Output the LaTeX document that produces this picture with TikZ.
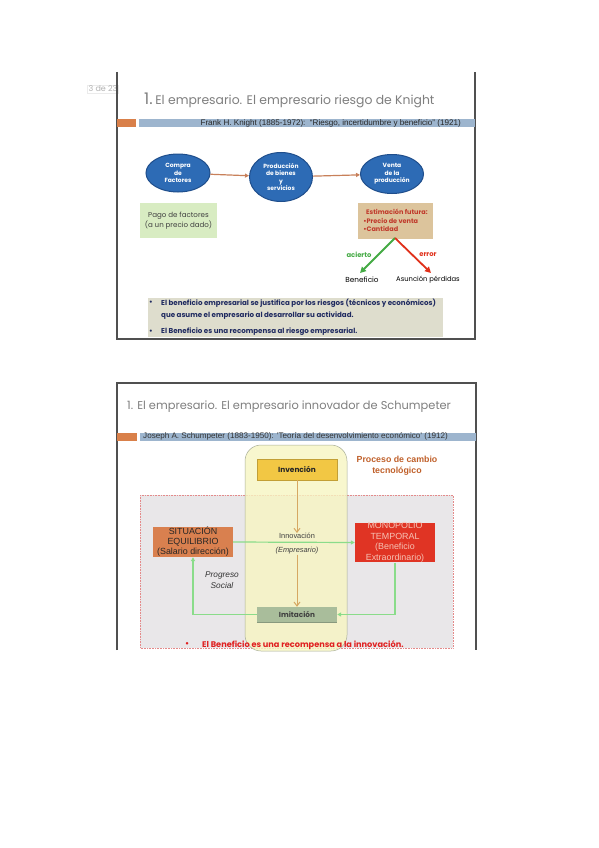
\documentclass[tikz,border=0pt]{standalone}
\usepackage{fontspec}
\setmainfont{Poppins}
\newfontfamily\arialf{Liberation Sans}
\usetikzlibrary{arrows.meta,shapes.geometric}
\definecolor{titlegray}{HTML}{7F7F7F}
\definecolor{bannerblue}{HTML}{9DB5CE}
\definecolor{bannerorange}{HTML}{D9804A}
\definecolor{ellf}{HTML}{2D6BB5}
\definecolor{ellb}{HTML}{1F4E8C}
\definecolor{arrowbrown}{HTML}{C8805A}
\definecolor{greenbox}{HTML}{D8ECC2}
\definecolor{tanbox}{HTML}{DCC49C}
\definecolor{tantext}{HTML}{C0392B}
\definecolor{okgreen}{HTML}{44AA44}
\definecolor{errred}{HTML}{E0301A}
\definecolor{notebox}{HTML}{DEDDCD}
\definecolor{navy}{HTML}{1F2A60}
\definecolor{frame}{HTML}{505050}
\definecolor{yellowbg}{HTML}{F7F5C2}
\definecolor{yellowline}{HTML}{A8AE98}
\definecolor{greyregion}{HTML}{E9E7E9}
\definecolor{dotred}{HTML}{E48A8A}
\definecolor{gold}{HTML}{F2C744}
\definecolor{procesotext}{HTML}{C0602A}
\definecolor{orangebox}{HTML}{D9804F}
\definecolor{redbox}{HTML}{E03424}
\definecolor{redboxtext}{HTML}{F6C2B4}
\definecolor{imitbox}{HTML}{A9BD9B}
\definecolor{imitshadow}{HTML}{88997E}
\definecolor{lightgreen}{HTML}{8ADC8A}
\definecolor{tanarrow}{HTML}{D6A862}
\definecolor{bulletred}{HTML}{E02020}
\begin{document}
\begin{tikzpicture}[x=1pt,y=-1pt,
  ell/.style={ellipse, draw=ellb, line width=1pt, fill=ellf, text=white,
    font=\fontsize{6}{7.4}\selectfont\bfseries, align=center, inner sep=0pt},
  flowarrow/.style={draw=arrowbrown, line width=1.2pt, -{Triangle[length=4pt,width=4pt]}},
  plainbox/.style={inner sep=0pt, align=center},
  framel/.style={draw=frame, line width=1.1pt},
  greenarr/.style={draw=lightgreen, line width=1.2pt, -{Triangle[length=4pt,width=4pt]}},
  tanarr/.style={draw=tanarrow, line width=1pt, -{Straight Barb[length=4pt,width=6pt]}},
  txt/.style={inner sep=0pt, anchor=west},
  notefont/.style={font=\fontsize{7.1}{8}\selectfont\bfseries, text=navy}
]
\useasboundingbox (0,0) rectangle (599,848);
\fill[white] (0,0) rectangle (599,848);

% ================= SLIDE 1 =================
\node[draw=black!8, fill=white, inner sep=1.2pt, text=black!30, font=\fontsize{8}{9}\selectfont] (pg) at (103,89) {3 de 23};
\draw[framel] (117,72) -- (117,339) -- (475,339) -- (475,72);
\node[txt, text=titlegray] (t1) at (144,100) {{\fontsize{16}{17}\selectfont 1.}\ {\fontsize{12.4}{14}\selectfont El empresario. El empresario riesgo de Knight}};
\fill[bannerorange] (117,119) rectangle (136,127.5);
\fill[bannerblue] (139,119) rectangle (475,127.5);
\node[inner sep=0pt, anchor=east, font=\arialf\fontsize{8.1}{8}\selectfont, text=black!85] (b1) at (461,123.3) {Frank H. Knight (1885-1972):\ \ “Riesgo, incertidumbre y beneficio” (1921)};

\node[ell, minimum width=64pt, minimum height=38pt] (e1) at (178,173) {Compra\\de\\Factores};
\node[ell, minimum width=63pt, minimum height=49pt] (e2) at (281,177) {Producción\\de bienes\\y\\servicios};
\node[ell, minimum width=63pt, minimum height=39pt] (e3) at (392,174) {Venta\\de la\\producción};
\draw[flowarrow] (e1) -- (e2);
\draw[flowarrow] (e2) -- (e3);

\node[plainbox, fill=greenbox, minimum width=77pt, minimum height=35pt, font=\fontsize{7.1}{10}\selectfont, text=black!75] (pago) at (178.5,220.5) {Pago de factores\\(a un precio dado)};
\node[plainbox, fill=tanbox, minimum width=75pt, minimum height=36pt, font=\fontsize{6.5}{8.7}\selectfont\bfseries, text=tantext, align=left] (est) at (395.5,220.5) {\ \ Estimación futura:\\•Precio de venta\\•Cantidad};
\coordinate (estb) at (395,238);
\node[inner sep=0pt, font=\fontsize{7.3}{8}\selectfont, text=black] (ben) at (362,280) {Beneficio};
\node[inner sep=0pt, font=\fontsize{6.8}{8}\selectfont, text=black] (asu) at (428,280) {Asunción pérdidas};
\draw[draw=okgreen, line width=1.8pt, -{Triangle[length=6pt,width=6pt]}] (estb) -- (360,273);
\draw[draw=errred, line width=1.8pt, -{Triangle[length=6pt,width=6pt]}] (estb) -- (431,273);
\node[inner sep=0pt, font=\fontsize{6.8}{8}\selectfont\bfseries, text=okgreen] (aci) at (359,255) {acierto};
\node[inner sep=0pt, font=\fontsize{6.8}{8}\selectfont\bfseries, text=errred] (err) at (428,255) {error};

\fill[notebox] (148,298) rectangle (443,337);
\node[txt, notefont] (n0) at (149,302.5) {•};
\node[txt, notefont] (n1) at (161,303) {El beneficio empresarial se justifica por los riesgos (técnicos y económicos)};
\node[txt, notefont] (n2) at (161,316) {que asume el empresario al desarrollar su actividad.};
\node[txt, notefont] (n3a) at (149,331.5) {•};
\node[txt, notefont] (n3) at (161,332) {El Beneficio es una recompensa al riesgo empresarial.};

% ================= SLIDE 2 =================
\draw[framel] (117,650) -- (117,383) -- (476,383) -- (476,650);
\node[txt, text=titlegray, font=\fontsize{11.4}{13}\selectfont] (t2) at (127,407) {1. El empresario. El empresario innovador de Schumpeter};
\fill[bannerorange] (117,433) rectangle (137,440.5);
\fill[bannerblue] (140,433) rectangle (476,440.5);
\node[txt, font=\arialf\fontsize{8.1}{8}\selectfont, text=black!80] (b2) at (143,436.8) {Joseph A. Schumpeter (1883-1950): ’Teoría del desenvolvimiento económico’ (1912)};

\fill[greyregion] (140,495) rectangle (453,648);
\draw[dotred, densely dotted, line width=0.6pt] (140,495) rectangle (453,648);
\fill[yellowbg, opacity=0.8, rounded corners=16pt] (245,445) rectangle (347,651);
\draw[yellowline, line width=0.5pt, rounded corners=16pt] (245,445) rectangle (347,651);

\node[plainbox, fill=gold, draw=gold!80!black, line width=0.3pt, minimum width=80pt, minimum height=21pt, font=\fontsize{7.4}{8}\selectfont\bfseries, text=black!85] (inv) at (297,469.5) {Invención};
\node[inner sep=0pt, font=\arialf\fontsize{8.8}{10.5}\selectfont\bfseries, text=procesotext, align=center] (proc) at (397,465.5) {Proceso de cambio\\tecnológico};

\node[plainbox, fill=orangebox, minimum width=80pt, minimum height=30pt, font=\arialf\fontsize{8.9}{10}\selectfont, text=black!85] (sit) at (193,542) {SITUACIÓN\\EQUILIBRIO\\(Salario dirección)};
\node[plainbox, fill=redbox, minimum width=80pt, minimum height=38pt, font=\arialf\fontsize{8.9}{10.6}\selectfont, text=redboxtext] (mon) at (395,542.5) {MONOPOLIO\\TEMPORAL\\(Beneficio\\Extraordinario)};
\node[inner sep=0pt, font=\arialf\fontsize{7.4}{8}\selectfont, text=black!75] (innv) at (297,536) {Innovación};
\node[inner sep=0pt, font=\arialf\itshape\fontsize{7.4}{8}\selectfont, text=black!75] (emp) at (297,551) {(Empresario)};
\node[plainbox, fill=imitbox, minimum width=80pt, minimum height=15pt, font=\fontsize{7.3}{8}\selectfont\bfseries, text=black!75] (imi) at (297,614.5) {Imitación};
\draw[imitshadow, line width=1pt] (imi.south west) -- (imi.south east);
\node[inner sep=0pt, font=\arialf\itshape\fontsize{8.3}{11}\selectfont, text=black!80, align=center] (prog) at (222,580) {Progreso\\Social};

\draw[tanarr] (inv.south) -- (innv.north);
\draw[tanarr] (emp.south) -- (imi.north);
\draw[greenarr] (sit.east) -- (mon.west);
\draw[greenarr] (mon.south) |- (imi.east);
\draw[greenarr] (imi.west) -| (sit.south);

\node[txt, font=\fontsize{8.2}{9}\selectfont\bfseries, text=bulletred] (bl) at (185,645) {•};
\node[txt, font=\fontsize{8.2}{9}\selectfont\bfseries, text=bulletred] (bt) at (202,645) {El Beneficio es una recompensa a la innovación.};
\end{tikzpicture}
\end{document}
